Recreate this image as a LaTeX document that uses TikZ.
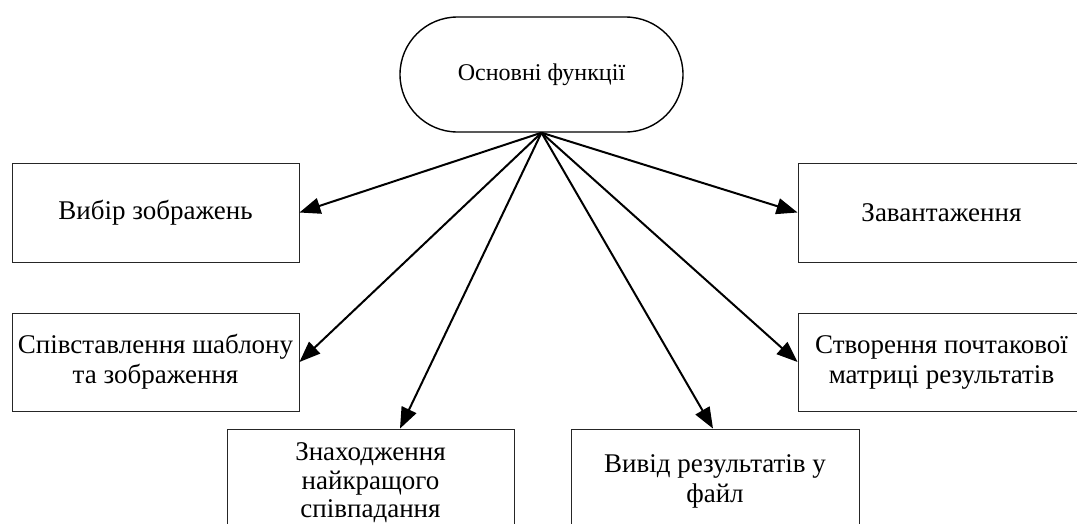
\documentclass[tikz,border=0pt]{standalone}
\usepackage{fontspec}
\setmainfont{Liberation Serif}
\usetikzlibrary{shapes.misc,arrows.meta}
\begin{document}
\begin{tikzpicture}[x=1pt,y=-1pt,
  funcbox/.style={draw=black!85,line width=0.9pt,minimum width=287pt,minimum height=98pt,
    inner sep=0pt,align=center,font=\fontsize{27}{30}\selectfont},
  mainoval/.style={rounded rectangle,draw,line width=1.4pt,minimum width=283pt,minimum height=115pt,
    inner sep=0pt,font=\fontsize{24}{28}\selectfont},
  arr/.style={line width=2pt,-{Triangle[length=21pt,width=16pt]}}]
\useasboundingbox (0,0) rectangle (1077,523);
\begin{scope}
\clip (0,0) rectangle (1077,523);
\node[mainoval] (main) at (541.5,74.5) {Основні функції};
\node[funcbox,minimum height=99pt] (sel) at (155.5,212.5) {Вибір зображень};
\node[funcbox] (cmp) at (155.5,362) {Співставлення шаблону\\та зображення};
\node[funcbox,minimum height=108pt,font=\fontsize{27}{28.5}\selectfont] (best) at (370.5,483) {Знаходження\\найкращого\\співпадання};
\node[funcbox,minimum width=288pt,minimum height=104pt] (out) at (715,481) {Вивід результатів у\\файл};
\node[funcbox,minimum height=99pt] (load) at (941.5,212.5) {Завантаження};
\node[funcbox] (init) at (941.5,362) {Створення почтакової\\матриці результатів};
\end{scope}
\draw[arr] (main.south) -- (sel.east);
\draw[arr] (main.south) -- (cmp.east);
\draw[arr] (main.south) -- ([xshift=29.5pt]best.north);
\draw[arr] (main.south) -- ([xshift=-2pt]out.north);
\draw[arr] (main.south) -- (load.west);
\draw[arr] (main.south) -- (init.west);
\end{tikzpicture}
\end{document}
